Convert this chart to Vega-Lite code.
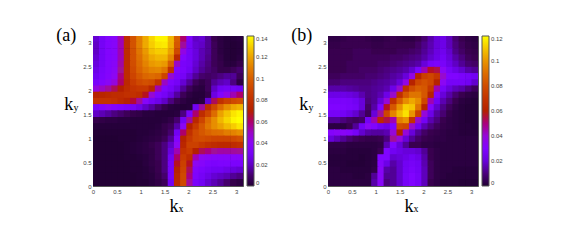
{"$schema":"https://vega.github.io/schema/vega-lite/v6.json","background":"white","padding":{"left":55,"top":26,"right":0,"bottom":0},"bounds":"flush","spacing":85,
"config":{"view":{"stroke":"#555","strokeWidth":1,"fill":"#000000"},"axis":{"grid":false,"domain":false,"tickSize":-2,"tickColor":"#555","labelFontSize":6,"labelColor":"#444","labelFont":"Liberation Sans","labelPadding":4,"title":null,"labelFlush":false,"labelOverlap":false},"legend":{"gradientLength":150,"gradientThickness":7,"offset":4,"labelFontSize":6,"labelColor":"#444","labelFont":"Liberation Sans","title":null,"gradientStrokeColor":"#555","gradientStrokeWidth":1,"labelOffset":6,"labelOverlap":false}},
"datasets":{
"a":[
{"x":0.07,"y":3.08,"v":0.022},{"x":0.2,"y":3.08,"v":0.03},{"x":0.33,"y":3.08,"v":0.036},{"x":0.46,"y":3.08,"v":0.038},{"x":0.59,"y":3.08,"v":0.052},{"x":0.72,"y":3.08,"v":0.078},{"x":0.85,"y":3.08,"v":0.096},{"x":0.98,"y":3.08,"v":0.11},{"x":1.11,"y":3.08,"v":0.122},{"x":1.24,"y":3.08,"v":0.132},{"x":1.37,"y":3.08,"v":0.138},{"x":1.51,"y":3.08,"v":0.138},{"x":1.64,"y":3.08,"v":0.125},{"x":1.77,"y":3.08,"v":0.1},{"x":1.9,"y":3.08,"v":0.06},{"x":2.03,"y":3.08,"v":0.032},{"x":2.16,"y":3.08,"v":0.02},{"x":2.29,"y":3.08,"v":0.022},{"x":2.42,"y":3.08,"v":0.014},{"x":2.55,"y":3.08,"v":0.007},{"x":2.68,"y":3.08,"v":0.004},{"x":2.81,"y":3.08,"v":0.002},{"x":2.95,"y":3.08,"v":0.002},{"x":3.08,"y":3.08,"v":0.003},
{"x":0.07,"y":2.95,"v":0.02},{"x":0.2,"y":2.95,"v":0.03},{"x":0.33,"y":2.95,"v":0.036},{"x":0.46,"y":2.95,"v":0.038},{"x":0.59,"y":2.95,"v":0.052},{"x":0.72,"y":2.95,"v":0.078},{"x":0.85,"y":2.95,"v":0.096},{"x":0.98,"y":2.95,"v":0.11},{"x":1.11,"y":2.95,"v":0.122},{"x":1.24,"y":2.95,"v":0.13},{"x":1.37,"y":2.95,"v":0.135},{"x":1.51,"y":2.95,"v":0.136},{"x":1.64,"y":2.95,"v":0.124},{"x":1.77,"y":2.95,"v":0.098},{"x":1.9,"y":2.95,"v":0.055},{"x":2.03,"y":2.95,"v":0.03},{"x":2.16,"y":2.95,"v":0.022},{"x":2.29,"y":2.95,"v":0.02},{"x":2.42,"y":2.95,"v":0.014},{"x":2.55,"y":2.95,"v":0.008},{"x":2.68,"y":2.95,"v":0.004},{"x":2.81,"y":2.95,"v":0.002},{"x":2.95,"y":2.95,"v":0.001},{"x":3.08,"y":2.95,"v":0.002},
{"x":0.07,"y":2.81,"v":0.02},{"x":0.2,"y":2.81,"v":0.03},{"x":0.33,"y":2.81,"v":0.036},{"x":0.46,"y":2.81,"v":0.038},{"x":0.59,"y":2.81,"v":0.052},{"x":0.72,"y":2.81,"v":0.078},{"x":0.85,"y":2.81,"v":0.095},{"x":0.98,"y":2.81,"v":0.108},{"x":1.11,"y":2.81,"v":0.118},{"x":1.24,"y":2.81,"v":0.127},{"x":1.37,"y":2.81,"v":0.13},{"x":1.51,"y":2.81,"v":0.13},{"x":1.64,"y":2.81,"v":0.12},{"x":1.77,"y":2.81,"v":0.092},{"x":1.9,"y":2.81,"v":0.045},{"x":2.03,"y":2.81,"v":0.03},{"x":2.16,"y":2.81,"v":0.024},{"x":2.29,"y":2.81,"v":0.018},{"x":2.42,"y":2.81,"v":0.014},{"x":2.55,"y":2.81,"v":0.008},{"x":2.68,"y":2.81,"v":0.004},{"x":2.81,"y":2.81,"v":0.002},{"x":2.95,"y":2.81,"v":0.001},{"x":3.08,"y":2.81,"v":0.002},
{"x":0.07,"y":2.68,"v":0.022},{"x":0.2,"y":2.68,"v":0.03},{"x":0.33,"y":2.68,"v":0.036},{"x":0.46,"y":2.68,"v":0.038},{"x":0.59,"y":2.68,"v":0.052},{"x":0.72,"y":2.68,"v":0.078},{"x":0.85,"y":2.68,"v":0.095},{"x":0.98,"y":2.68,"v":0.106},{"x":1.11,"y":2.68,"v":0.115},{"x":1.24,"y":2.68,"v":0.122},{"x":1.37,"y":2.68,"v":0.125},{"x":1.51,"y":2.68,"v":0.125},{"x":1.64,"y":2.68,"v":0.113},{"x":1.77,"y":2.68,"v":0.075},{"x":1.9,"y":2.68,"v":0.036},{"x":2.03,"y":2.68,"v":0.03},{"x":2.16,"y":2.68,"v":0.024},{"x":2.29,"y":2.68,"v":0.018},{"x":2.42,"y":2.68,"v":0.013},{"x":2.55,"y":2.68,"v":0.008},{"x":2.68,"y":2.68,"v":0.005},{"x":2.81,"y":2.68,"v":0.002},{"x":2.95,"y":2.68,"v":0.001},{"x":3.08,"y":2.68,"v":0.003},
{"x":0.07,"y":2.55,"v":0.024},{"x":0.2,"y":2.55,"v":0.03},{"x":0.33,"y":2.55,"v":0.036},{"x":0.46,"y":2.55,"v":0.039},{"x":0.59,"y":2.55,"v":0.054},{"x":0.72,"y":2.55,"v":0.078},{"x":0.85,"y":2.55,"v":0.094},{"x":0.98,"y":2.55,"v":0.104},{"x":1.11,"y":2.55,"v":0.112},{"x":1.24,"y":2.55,"v":0.118},{"x":1.37,"y":2.55,"v":0.12},{"x":1.51,"y":2.55,"v":0.118},{"x":1.64,"y":2.55,"v":0.1},{"x":1.77,"y":2.55,"v":0.05},{"x":1.9,"y":2.55,"v":0.032},{"x":2.03,"y":2.55,"v":0.03},{"x":2.16,"y":2.55,"v":0.022},{"x":2.29,"y":2.55,"v":0.016},{"x":2.42,"y":2.55,"v":0.012},{"x":2.55,"y":2.55,"v":0.008},{"x":2.68,"y":2.55,"v":0.006},{"x":2.81,"y":2.55,"v":0.003},{"x":2.95,"y":2.55,"v":0.003},{"x":3.08,"y":2.55,"v":0.006},
{"x":0.07,"y":2.42,"v":0.026},{"x":0.2,"y":2.42,"v":0.032},{"x":0.33,"y":2.42,"v":0.036},{"x":0.46,"y":2.42,"v":0.04},{"x":0.59,"y":2.42,"v":0.056},{"x":0.72,"y":2.42,"v":0.078},{"x":0.85,"y":2.42,"v":0.092},{"x":0.98,"y":2.42,"v":0.102},{"x":1.11,"y":2.42,"v":0.108},{"x":1.24,"y":2.42,"v":0.112},{"x":1.37,"y":2.42,"v":0.113},{"x":1.51,"y":2.42,"v":0.108},{"x":1.64,"y":2.42,"v":0.08},{"x":1.77,"y":2.42,"v":0.036},{"x":1.9,"y":2.42,"v":0.033},{"x":2.03,"y":2.42,"v":0.028},{"x":2.16,"y":2.42,"v":0.02},{"x":2.29,"y":2.42,"v":0.014},{"x":2.42,"y":2.42,"v":0.011},{"x":2.55,"y":2.42,"v":0.009},{"x":2.68,"y":2.42,"v":0.006},{"x":2.81,"y":2.42,"v":0.006},{"x":2.95,"y":2.42,"v":0.008},{"x":3.08,"y":2.42,"v":0.01},
{"x":0.07,"y":2.29,"v":0.028},{"x":0.2,"y":2.29,"v":0.033},{"x":0.33,"y":2.29,"v":0.037},{"x":0.46,"y":2.29,"v":0.042},{"x":0.59,"y":2.29,"v":0.058},{"x":0.72,"y":2.29,"v":0.078},{"x":0.85,"y":2.29,"v":0.09},{"x":0.98,"y":2.29,"v":0.098},{"x":1.11,"y":2.29,"v":0.103},{"x":1.24,"y":2.29,"v":0.105},{"x":1.37,"y":2.29,"v":0.103},{"x":1.51,"y":2.29,"v":0.09},{"x":1.64,"y":2.29,"v":0.048},{"x":1.77,"y":2.29,"v":0.033},{"x":1.9,"y":2.29,"v":0.03},{"x":2.03,"y":2.29,"v":0.022},{"x":2.16,"y":2.29,"v":0.014},{"x":2.29,"y":2.29,"v":0.01},{"x":2.42,"y":2.29,"v":0.009},{"x":2.55,"y":2.29,"v":0.01},{"x":2.68,"y":2.29,"v":0.012},{"x":2.81,"y":2.29,"v":0.014},{"x":2.95,"y":2.29,"v":0.014},{"x":3.08,"y":2.29,"v":0.008},
{"x":0.07,"y":2.16,"v":0.032},{"x":0.2,"y":2.16,"v":0.036},{"x":0.33,"y":2.16,"v":0.04},{"x":0.46,"y":2.16,"v":0.046},{"x":0.59,"y":2.16,"v":0.06},{"x":0.72,"y":2.16,"v":0.076},{"x":0.85,"y":2.16,"v":0.086},{"x":0.98,"y":2.16,"v":0.092},{"x":1.11,"y":2.16,"v":0.095},{"x":1.24,"y":2.16,"v":0.093},{"x":1.37,"y":2.16,"v":0.082},{"x":1.51,"y":2.16,"v":0.05},{"x":1.64,"y":2.16,"v":0.034},{"x":1.77,"y":2.16,"v":0.03},{"x":1.9,"y":2.16,"v":0.022},{"x":2.03,"y":2.16,"v":0.014},{"x":2.16,"y":2.16,"v":0.008},{"x":2.29,"y":2.16,"v":0.005},{"x":2.42,"y":2.16,"v":0.008},{"x":2.55,"y":2.16,"v":0.014},{"x":2.68,"y":2.16,"v":0.018},{"x":2.81,"y":2.16,"v":0.02},{"x":2.95,"y":2.16,"v":0.012},{"x":3.08,"y":2.16,"v":0.004},
{"x":0.07,"y":2.03,"v":0.046},{"x":0.2,"y":2.03,"v":0.05},{"x":0.33,"y":2.03,"v":0.055},{"x":0.46,"y":2.03,"v":0.062},{"x":0.59,"y":2.03,"v":0.07},{"x":0.72,"y":2.03,"v":0.078},{"x":0.85,"y":2.03,"v":0.082},{"x":0.98,"y":2.03,"v":0.084},{"x":1.11,"y":2.03,"v":0.084},{"x":1.24,"y":2.03,"v":0.075},{"x":1.37,"y":2.03,"v":0.052},{"x":1.51,"y":2.03,"v":0.034},{"x":1.64,"y":2.03,"v":0.03},{"x":1.77,"y":2.03,"v":0.024},{"x":1.9,"y":2.03,"v":0.014},{"x":2.03,"y":2.03,"v":0.008},{"x":2.16,"y":2.03,"v":0.004},{"x":2.29,"y":2.03,"v":0.003},{"x":2.42,"y":2.03,"v":0.008},{"x":2.55,"y":2.03,"v":0.02},{"x":2.68,"y":2.03,"v":0.028},{"x":2.81,"y":2.03,"v":0.03},{"x":2.95,"y":2.03,"v":0.03},{"x":3.08,"y":2.03,"v":0.028},
{"x":0.07,"y":1.9,"v":0.072},{"x":0.2,"y":1.9,"v":0.074},{"x":0.33,"y":1.9,"v":0.076},{"x":0.46,"y":1.9,"v":0.078},{"x":0.59,"y":1.9,"v":0.078},{"x":0.72,"y":1.9,"v":0.08},{"x":0.85,"y":1.9,"v":0.08},{"x":0.98,"y":1.9,"v":0.078},{"x":1.11,"y":1.9,"v":0.068},{"x":1.24,"y":1.9,"v":0.048},{"x":1.37,"y":1.9,"v":0.034},{"x":1.51,"y":1.9,"v":0.03},{"x":1.64,"y":1.9,"v":0.024},{"x":1.77,"y":1.9,"v":0.015},{"x":1.9,"y":1.9,"v":0.008},{"x":2.03,"y":1.9,"v":0.004},{"x":2.16,"y":1.9,"v":0.002},{"x":2.29,"y":1.9,"v":0.002},{"x":2.42,"y":1.9,"v":0.006},{"x":2.55,"y":1.9,"v":0.025},{"x":2.68,"y":1.9,"v":0.036},{"x":2.81,"y":1.9,"v":0.044},{"x":2.95,"y":1.9,"v":0.052},{"x":3.08,"y":1.9,"v":0.06},
{"x":0.07,"y":1.77,"v":0.082},{"x":0.2,"y":1.77,"v":0.082},{"x":0.33,"y":1.77,"v":0.082},{"x":0.46,"y":1.77,"v":0.08},{"x":0.59,"y":1.77,"v":0.076},{"x":0.72,"y":1.77,"v":0.072},{"x":0.85,"y":1.77,"v":0.066},{"x":0.98,"y":1.77,"v":0.055},{"x":1.11,"y":1.77,"v":0.038},{"x":1.24,"y":1.77,"v":0.03},{"x":1.37,"y":1.77,"v":0.026},{"x":1.51,"y":1.77,"v":0.02},{"x":1.64,"y":1.77,"v":0.012},{"x":1.77,"y":1.77,"v":0.007},{"x":1.9,"y":1.77,"v":0.004},{"x":2.03,"y":1.77,"v":0.002},{"x":2.16,"y":1.77,"v":0.001},{"x":2.29,"y":1.77,"v":0.003},{"x":2.42,"y":1.77,"v":0.022},{"x":2.55,"y":1.77,"v":0.062},{"x":2.68,"y":1.77,"v":0.08},{"x":2.81,"y":1.77,"v":0.088},{"x":2.95,"y":1.77,"v":0.092},{"x":3.08,"y":1.77,"v":0.095},
{"x":0.07,"y":1.64,"v":0.032},{"x":0.2,"y":1.64,"v":0.036},{"x":0.33,"y":1.64,"v":0.04},{"x":0.46,"y":1.64,"v":0.036},{"x":0.59,"y":1.64,"v":0.034},{"x":0.72,"y":1.64,"v":0.032},{"x":0.85,"y":1.64,"v":0.03},{"x":0.98,"y":1.64,"v":0.026},{"x":1.11,"y":1.64,"v":0.02},{"x":1.24,"y":1.64,"v":0.015},{"x":1.37,"y":1.64,"v":0.01},{"x":1.51,"y":1.64,"v":0.006},{"x":1.64,"y":1.64,"v":0.003},{"x":1.77,"y":1.64,"v":0.002},{"x":1.9,"y":1.64,"v":0.001},{"x":2.03,"y":1.64,"v":0.002},{"x":2.16,"y":1.64,"v":0.028},{"x":2.29,"y":1.64,"v":0.055},{"x":2.42,"y":1.64,"v":0.078},{"x":2.55,"y":1.64,"v":0.092},{"x":2.68,"y":1.64,"v":0.105},{"x":2.81,"y":1.64,"v":0.115},{"x":2.95,"y":1.64,"v":0.122},{"x":3.08,"y":1.64,"v":0.125},
{"x":0.07,"y":1.51,"v":0.02},{"x":0.2,"y":1.51,"v":0.018},{"x":0.33,"y":1.51,"v":0.015},{"x":0.46,"y":1.51,"v":0.012},{"x":0.59,"y":1.51,"v":0.01},{"x":0.72,"y":1.51,"v":0.008},{"x":0.85,"y":1.51,"v":0.006},{"x":0.98,"y":1.51,"v":0.005},{"x":1.11,"y":1.51,"v":0.003},{"x":1.24,"y":1.51,"v":0.003},{"x":1.37,"y":1.51,"v":0.002},{"x":1.51,"y":1.51,"v":0.002},{"x":1.64,"y":1.51,"v":0.002},{"x":1.77,"y":1.51,"v":0.003},{"x":1.9,"y":1.51,"v":0.012},{"x":2.03,"y":1.51,"v":0.032},{"x":2.16,"y":1.51,"v":0.06},{"x":2.29,"y":1.51,"v":0.078},{"x":2.42,"y":1.51,"v":0.09},{"x":2.55,"y":1.51,"v":0.105},{"x":2.68,"y":1.51,"v":0.12},{"x":2.81,"y":1.51,"v":0.128},{"x":2.95,"y":1.51,"v":0.135},{"x":3.08,"y":1.51,"v":0.138},
{"x":0.07,"y":1.37,"v":0.006},{"x":0.2,"y":1.37,"v":0.005},{"x":0.33,"y":1.37,"v":0.004},{"x":0.46,"y":1.37,"v":0.004},{"x":0.59,"y":1.37,"v":0.003},{"x":0.72,"y":1.37,"v":0.003},{"x":0.85,"y":1.37,"v":0.002},{"x":0.98,"y":1.37,"v":0.002},{"x":1.11,"y":1.37,"v":0.002},{"x":1.24,"y":1.37,"v":0.002},{"x":1.37,"y":1.37,"v":0.002},{"x":1.51,"y":1.37,"v":0.003},{"x":1.64,"y":1.37,"v":0.005},{"x":1.77,"y":1.37,"v":0.01},{"x":1.9,"y":1.37,"v":0.028},{"x":2.03,"y":1.37,"v":0.055},{"x":2.16,"y":1.37,"v":0.075},{"x":2.29,"y":1.37,"v":0.09},{"x":2.42,"y":1.37,"v":0.105},{"x":2.55,"y":1.37,"v":0.115},{"x":2.68,"y":1.37,"v":0.125},{"x":2.81,"y":1.37,"v":0.132},{"x":2.95,"y":1.37,"v":0.138},{"x":3.08,"y":1.37,"v":0.14},
{"x":0.07,"y":1.24,"v":0.002},{"x":0.2,"y":1.24,"v":0.002},{"x":0.33,"y":1.24,"v":0.002},{"x":0.46,"y":1.24,"v":0.002},{"x":0.59,"y":1.24,"v":0.002},{"x":0.72,"y":1.24,"v":0.002},{"x":0.85,"y":1.24,"v":0.002},{"x":0.98,"y":1.24,"v":0.002},{"x":1.11,"y":1.24,"v":0.002},{"x":1.24,"y":1.24,"v":0.002},{"x":1.37,"y":1.24,"v":0.003},{"x":1.51,"y":1.24,"v":0.006},{"x":1.64,"y":1.24,"v":0.008},{"x":1.77,"y":1.24,"v":0.016},{"x":1.9,"y":1.24,"v":0.04},{"x":2.03,"y":1.24,"v":0.07},{"x":2.16,"y":1.24,"v":0.085},{"x":2.29,"y":1.24,"v":0.098},{"x":2.42,"y":1.24,"v":0.108},{"x":2.55,"y":1.24,"v":0.115},{"x":2.68,"y":1.24,"v":0.12},{"x":2.81,"y":1.24,"v":0.126},{"x":2.95,"y":1.24,"v":0.13},{"x":3.08,"y":1.24,"v":0.135},
{"x":0.07,"y":1.11,"v":0.001},{"x":0.2,"y":1.11,"v":0.001},{"x":0.33,"y":1.11,"v":0.001},{"x":0.46,"y":1.11,"v":0.001},{"x":0.59,"y":1.11,"v":0.001},{"x":0.72,"y":1.11,"v":0.001},{"x":0.85,"y":1.11,"v":0.001},{"x":0.98,"y":1.11,"v":0.002},{"x":1.11,"y":1.11,"v":0.002},{"x":1.24,"y":1.11,"v":0.003},{"x":1.37,"y":1.11,"v":0.004},{"x":1.51,"y":1.11,"v":0.006},{"x":1.64,"y":1.11,"v":0.01},{"x":1.77,"y":1.11,"v":0.028},{"x":1.9,"y":1.11,"v":0.06},{"x":2.03,"y":1.11,"v":0.08},{"x":2.16,"y":1.11,"v":0.092},{"x":2.29,"y":1.11,"v":0.098},{"x":2.42,"y":1.11,"v":0.102},{"x":2.55,"y":1.11,"v":0.105},{"x":2.68,"y":1.11,"v":0.106},{"x":2.81,"y":1.11,"v":0.11},{"x":2.95,"y":1.11,"v":0.112},{"x":3.08,"y":1.11,"v":0.115},
{"x":0.07,"y":0.98,"v":0},{"x":0.2,"y":0.98,"v":0},{"x":0.33,"y":0.98,"v":0},{"x":0.46,"y":0.98,"v":0},{"x":0.59,"y":0.98,"v":0.001},{"x":0.72,"y":0.98,"v":0.001},{"x":0.85,"y":0.98,"v":0.001},{"x":0.98,"y":0.98,"v":0.002},{"x":1.11,"y":0.98,"v":0.003},{"x":1.24,"y":0.98,"v":0.004},{"x":1.37,"y":0.98,"v":0.005},{"x":1.51,"y":0.98,"v":0.008},{"x":1.64,"y":0.98,"v":0.014},{"x":1.77,"y":0.98,"v":0.036},{"x":1.9,"y":0.98,"v":0.072},{"x":2.03,"y":0.98,"v":0.085},{"x":2.16,"y":0.98,"v":0.092},{"x":2.29,"y":0.98,"v":0.094},{"x":2.42,"y":0.98,"v":0.092},{"x":2.55,"y":0.98,"v":0.09},{"x":2.68,"y":0.98,"v":0.09},{"x":2.81,"y":0.98,"v":0.09},{"x":2.95,"y":0.98,"v":0.092},{"x":3.08,"y":0.98,"v":0.095},
{"x":0.07,"y":0.85,"v":0},{"x":0.2,"y":0.85,"v":0},{"x":0.33,"y":0.85,"v":0},{"x":0.46,"y":0.85,"v":0},{"x":0.59,"y":0.85,"v":0},{"x":0.72,"y":0.85,"v":0.001},{"x":0.85,"y":0.85,"v":0.002},{"x":0.98,"y":0.85,"v":0.003},{"x":1.11,"y":0.85,"v":0.004},{"x":1.24,"y":0.85,"v":0.006},{"x":1.37,"y":0.85,"v":0.008},{"x":1.51,"y":0.85,"v":0.012},{"x":1.64,"y":0.85,"v":0.02},{"x":1.77,"y":0.85,"v":0.042},{"x":1.9,"y":0.85,"v":0.075},{"x":2.03,"y":0.85,"v":0.088},{"x":2.16,"y":0.85,"v":0.088},{"x":2.29,"y":0.85,"v":0.084},{"x":2.42,"y":0.85,"v":0.08},{"x":2.55,"y":0.85,"v":0.078},{"x":2.68,"y":0.85,"v":0.076},{"x":2.81,"y":0.85,"v":0.076},{"x":2.95,"y":0.85,"v":0.078},{"x":3.08,"y":0.85,"v":0.08},
{"x":0.07,"y":0.72,"v":0},{"x":0.2,"y":0.72,"v":0},{"x":0.33,"y":0.72,"v":0},{"x":0.46,"y":0.72,"v":0},{"x":0.59,"y":0.72,"v":0},{"x":0.72,"y":0.72,"v":0.001},{"x":0.85,"y":0.72,"v":0.002},{"x":0.98,"y":0.72,"v":0.003},{"x":1.11,"y":0.72,"v":0.004},{"x":1.24,"y":0.72,"v":0.005},{"x":1.37,"y":0.72,"v":0.008},{"x":1.51,"y":0.72,"v":0.012},{"x":1.64,"y":0.72,"v":0.024},{"x":1.77,"y":0.72,"v":0.052},{"x":1.9,"y":0.72,"v":0.08},{"x":2.03,"y":0.72,"v":0.085},{"x":2.16,"y":0.72,"v":0.07},{"x":2.29,"y":0.72,"v":0.062},{"x":2.42,"y":0.72,"v":0.058},{"x":2.55,"y":0.72,"v":0.056},{"x":2.68,"y":0.72,"v":0.054},{"x":2.81,"y":0.72,"v":0.054},{"x":2.95,"y":0.72,"v":0.055},{"x":3.08,"y":0.72,"v":0.056},
{"x":0.07,"y":0.59,"v":0},{"x":0.2,"y":0.59,"v":0},{"x":0.33,"y":0.59,"v":0},{"x":0.46,"y":0.59,"v":0},{"x":0.59,"y":0.59,"v":0},{"x":0.72,"y":0.59,"v":0.001},{"x":0.85,"y":0.59,"v":0.001},{"x":0.98,"y":0.59,"v":0.002},{"x":1.11,"y":0.59,"v":0.003},{"x":1.24,"y":0.59,"v":0.005},{"x":1.37,"y":0.59,"v":0.008},{"x":1.51,"y":0.59,"v":0.012},{"x":1.64,"y":0.59,"v":0.028},{"x":1.77,"y":0.59,"v":0.06},{"x":1.9,"y":0.59,"v":0.085},{"x":2.03,"y":0.59,"v":0.078},{"x":2.16,"y":0.59,"v":0.052},{"x":2.29,"y":0.59,"v":0.042},{"x":2.42,"y":0.59,"v":0.04},{"x":2.55,"y":0.59,"v":0.038},{"x":2.68,"y":0.59,"v":0.038},{"x":2.81,"y":0.59,"v":0.038},{"x":2.95,"y":0.59,"v":0.038},{"x":3.08,"y":0.59,"v":0.038},
{"x":0.07,"y":0.46,"v":0},{"x":0.2,"y":0.46,"v":0},{"x":0.33,"y":0.46,"v":0},{"x":0.46,"y":0.46,"v":0},{"x":0.59,"y":0.46,"v":0},{"x":0.72,"y":0.46,"v":0},{"x":0.85,"y":0.46,"v":0.001},{"x":0.98,"y":0.46,"v":0.001},{"x":1.11,"y":0.46,"v":0.003},{"x":1.24,"y":0.46,"v":0.005},{"x":1.37,"y":0.46,"v":0.007},{"x":1.51,"y":0.46,"v":0.012},{"x":1.64,"y":0.46,"v":0.03},{"x":1.77,"y":0.46,"v":0.068},{"x":1.9,"y":0.46,"v":0.088},{"x":2.03,"y":0.46,"v":0.068},{"x":2.16,"y":0.46,"v":0.042},{"x":2.29,"y":0.46,"v":0.038},{"x":2.42,"y":0.46,"v":0.034},{"x":2.55,"y":0.46,"v":0.033},{"x":2.68,"y":0.46,"v":0.034},{"x":2.81,"y":0.46,"v":0.034},{"x":2.95,"y":0.46,"v":0.033},{"x":3.08,"y":0.46,"v":0.033},
{"x":0.07,"y":0.33,"v":0},{"x":0.2,"y":0.33,"v":0},{"x":0.33,"y":0.33,"v":0},{"x":0.46,"y":0.33,"v":0},{"x":0.59,"y":0.33,"v":0},{"x":0.72,"y":0.33,"v":0},{"x":0.85,"y":0.33,"v":0.001},{"x":0.98,"y":0.33,"v":0.001},{"x":1.11,"y":0.33,"v":0.002},{"x":1.24,"y":0.33,"v":0.004},{"x":1.37,"y":0.33,"v":0.007},{"x":1.51,"y":0.33,"v":0.012},{"x":1.64,"y":0.33,"v":0.03},{"x":1.77,"y":0.33,"v":0.072},{"x":1.9,"y":0.33,"v":0.09},{"x":2.03,"y":0.33,"v":0.062},{"x":2.16,"y":0.33,"v":0.036},{"x":2.29,"y":0.33,"v":0.033},{"x":2.42,"y":0.33,"v":0.03},{"x":2.55,"y":0.33,"v":0.028},{"x":2.68,"y":0.33,"v":0.028},{"x":2.81,"y":0.33,"v":0.026},{"x":2.95,"y":0.33,"v":0.024},{"x":3.08,"y":0.33,"v":0.022},
{"x":0.07,"y":0.2,"v":0},{"x":0.2,"y":0.2,"v":0},{"x":0.33,"y":0.2,"v":0},{"x":0.46,"y":0.2,"v":0},{"x":0.59,"y":0.2,"v":0},{"x":0.72,"y":0.2,"v":0},{"x":0.85,"y":0.2,"v":0},{"x":0.98,"y":0.2,"v":0.001},{"x":1.11,"y":0.2,"v":0.002},{"x":1.24,"y":0.2,"v":0.003},{"x":1.37,"y":0.2,"v":0.006},{"x":1.51,"y":0.2,"v":0.01},{"x":1.64,"y":0.2,"v":0.03},{"x":1.77,"y":0.2,"v":0.075},{"x":1.9,"y":0.2,"v":0.092},{"x":2.03,"y":0.2,"v":0.058},{"x":2.16,"y":0.2,"v":0.034},{"x":2.29,"y":0.2,"v":0.03},{"x":2.42,"y":0.2,"v":0.026},{"x":2.55,"y":0.2,"v":0.022},{"x":2.68,"y":0.2,"v":0.02},{"x":2.81,"y":0.2,"v":0.018},{"x":2.95,"y":0.2,"v":0.014},{"x":3.08,"y":0.2,"v":0.012},
{"x":0.07,"y":0.07,"v":0},{"x":0.2,"y":0.07,"v":0},{"x":0.33,"y":0.07,"v":0},{"x":0.46,"y":0.07,"v":0},{"x":0.59,"y":0.07,"v":0},{"x":0.72,"y":0.07,"v":0},{"x":0.85,"y":0.07,"v":0},{"x":0.98,"y":0.07,"v":0.001},{"x":1.11,"y":0.07,"v":0.001},{"x":1.24,"y":0.07,"v":0.003},{"x":1.37,"y":0.07,"v":0.005},{"x":1.51,"y":0.07,"v":0.008},{"x":1.64,"y":0.07,"v":0.028},{"x":1.77,"y":0.07,"v":0.076},{"x":1.9,"y":0.07,"v":0.092},{"x":2.03,"y":0.07,"v":0.055},{"x":2.16,"y":0.07,"v":0.032},{"x":2.29,"y":0.07,"v":0.028},{"x":2.42,"y":0.07,"v":0.022},{"x":2.55,"y":0.07,"v":0.018},{"x":2.68,"y":0.07,"v":0.014},{"x":2.81,"y":0.07,"v":0.01},{"x":2.95,"y":0.07,"v":0.006},{"x":3.08,"y":0.07,"v":0.004}
],
"b":[
{"x":0.07,"y":3.08,"v":0.004},{"x":0.2,"y":3.08,"v":0.004},{"x":0.33,"y":3.08,"v":0.005},{"x":0.46,"y":3.08,"v":0.006},{"x":0.59,"y":3.08,"v":0.006},{"x":0.72,"y":3.08,"v":0.006},{"x":0.85,"y":3.08,"v":0.005},{"x":0.98,"y":3.08,"v":0.004},{"x":1.11,"y":3.08,"v":0.004},{"x":1.24,"y":3.08,"v":0.005},{"x":1.37,"y":3.08,"v":0.006},{"x":1.51,"y":3.08,"v":0.005},{"x":1.64,"y":3.08,"v":0.004},{"x":1.77,"y":3.08,"v":0.004},{"x":1.9,"y":3.08,"v":0.006},{"x":2.03,"y":3.08,"v":0.009},{"x":2.16,"y":3.08,"v":0.014},{"x":2.29,"y":3.08,"v":0.02},{"x":2.42,"y":3.08,"v":0.022},{"x":2.55,"y":3.08,"v":0.016},{"x":2.68,"y":3.08,"v":0.009},{"x":2.81,"y":3.08,"v":0.006},{"x":2.95,"y":3.08,"v":0.004},{"x":3.08,"y":3.08,"v":0.003},
{"x":0.07,"y":2.95,"v":0.005},{"x":0.2,"y":2.95,"v":0.005},{"x":0.33,"y":2.95,"v":0.006},{"x":0.46,"y":2.95,"v":0.006},{"x":0.59,"y":2.95,"v":0.006},{"x":0.72,"y":2.95,"v":0.006},{"x":0.85,"y":2.95,"v":0.006},{"x":0.98,"y":2.95,"v":0.005},{"x":1.11,"y":2.95,"v":0.005},{"x":1.24,"y":2.95,"v":0.006},{"x":1.37,"y":2.95,"v":0.006},{"x":1.51,"y":2.95,"v":0.006},{"x":1.64,"y":2.95,"v":0.006},{"x":1.77,"y":2.95,"v":0.006},{"x":1.9,"y":2.95,"v":0.008},{"x":2.03,"y":2.95,"v":0.011},{"x":2.16,"y":2.95,"v":0.015},{"x":2.29,"y":2.95,"v":0.02},{"x":2.42,"y":2.95,"v":0.022},{"x":2.55,"y":2.95,"v":0.016},{"x":2.68,"y":2.95,"v":0.01},{"x":2.81,"y":2.95,"v":0.007},{"x":2.95,"y":2.95,"v":0.005},{"x":3.08,"y":2.95,"v":0.004},
{"x":0.07,"y":2.81,"v":0.006},{"x":0.2,"y":2.81,"v":0.006},{"x":0.33,"y":2.81,"v":0.006},{"x":0.46,"y":2.81,"v":0.006},{"x":0.59,"y":2.81,"v":0.007},{"x":0.72,"y":2.81,"v":0.007},{"x":0.85,"y":2.81,"v":0.007},{"x":0.98,"y":2.81,"v":0.006},{"x":1.11,"y":2.81,"v":0.006},{"x":1.24,"y":2.81,"v":0.006},{"x":1.37,"y":2.81,"v":0.006},{"x":1.51,"y":2.81,"v":0.007},{"x":1.64,"y":2.81,"v":0.007},{"x":1.77,"y":2.81,"v":0.008},{"x":1.9,"y":2.81,"v":0.009},{"x":2.03,"y":2.81,"v":0.012},{"x":2.16,"y":2.81,"v":0.016},{"x":2.29,"y":2.81,"v":0.021},{"x":2.42,"y":2.81,"v":0.023},{"x":2.55,"y":2.81,"v":0.018},{"x":2.68,"y":2.81,"v":0.011},{"x":2.81,"y":2.81,"v":0.008},{"x":2.95,"y":2.81,"v":0.006},{"x":3.08,"y":2.81,"v":0.005},
{"x":0.07,"y":2.68,"v":0.006},{"x":0.2,"y":2.68,"v":0.006},{"x":0.33,"y":2.68,"v":0.006},{"x":0.46,"y":2.68,"v":0.006},{"x":0.59,"y":2.68,"v":0.007},{"x":0.72,"y":2.68,"v":0.007},{"x":0.85,"y":2.68,"v":0.007},{"x":0.98,"y":2.68,"v":0.007},{"x":1.11,"y":2.68,"v":0.007},{"x":1.24,"y":2.68,"v":0.007},{"x":1.37,"y":2.68,"v":0.008},{"x":1.51,"y":2.68,"v":0.008},{"x":1.64,"y":2.68,"v":0.009},{"x":1.77,"y":2.68,"v":0.01},{"x":1.9,"y":2.68,"v":0.011},{"x":2.03,"y":2.68,"v":0.014},{"x":2.16,"y":2.68,"v":0.018},{"x":2.29,"y":2.68,"v":0.022},{"x":2.42,"y":2.68,"v":0.025},{"x":2.55,"y":2.68,"v":0.02},{"x":2.68,"y":2.68,"v":0.014},{"x":2.81,"y":2.68,"v":0.01},{"x":2.95,"y":2.68,"v":0.007},{"x":3.08,"y":2.68,"v":0.006},
{"x":0.07,"y":2.55,"v":0.006},{"x":0.2,"y":2.55,"v":0.006},{"x":0.33,"y":2.55,"v":0.006},{"x":0.46,"y":2.55,"v":0.007},{"x":0.59,"y":2.55,"v":0.007},{"x":0.72,"y":2.55,"v":0.007},{"x":0.85,"y":2.55,"v":0.007},{"x":0.98,"y":2.55,"v":0.007},{"x":1.11,"y":2.55,"v":0.008},{"x":1.24,"y":2.55,"v":0.008},{"x":1.37,"y":2.55,"v":0.009},{"x":1.51,"y":2.55,"v":0.01},{"x":1.64,"y":2.55,"v":0.011},{"x":1.77,"y":2.55,"v":0.012},{"x":1.9,"y":2.55,"v":0.014},{"x":2.03,"y":2.55,"v":0.02},{"x":2.16,"y":2.55,"v":0.026},{"x":2.29,"y":2.55,"v":0.028},{"x":2.42,"y":2.55,"v":0.027},{"x":2.55,"y":2.55,"v":0.022},{"x":2.68,"y":2.55,"v":0.017},{"x":2.81,"y":2.55,"v":0.012},{"x":2.95,"y":2.55,"v":0.009},{"x":3.08,"y":2.55,"v":0.008},
{"x":0.07,"y":2.42,"v":0.006},{"x":0.2,"y":2.42,"v":0.006},{"x":0.33,"y":2.42,"v":0.006},{"x":0.46,"y":2.42,"v":0.007},{"x":0.59,"y":2.42,"v":0.007},{"x":0.72,"y":2.42,"v":0.008},{"x":0.85,"y":2.42,"v":0.008},{"x":0.98,"y":2.42,"v":0.008},{"x":1.11,"y":2.42,"v":0.009},{"x":1.24,"y":2.42,"v":0.01},{"x":1.37,"y":2.42,"v":0.011},{"x":1.51,"y":2.42,"v":0.012},{"x":1.64,"y":2.42,"v":0.014},{"x":1.77,"y":2.42,"v":0.018},{"x":1.9,"y":2.42,"v":0.028},{"x":2.03,"y":2.42,"v":0.045},{"x":2.16,"y":2.42,"v":0.058},{"x":2.29,"y":2.42,"v":0.055},{"x":2.42,"y":2.42,"v":0.035},{"x":2.55,"y":2.42,"v":0.026},{"x":2.68,"y":2.42,"v":0.022},{"x":2.81,"y":2.42,"v":0.018},{"x":2.95,"y":2.42,"v":0.014},{"x":3.08,"y":2.42,"v":0.012},
{"x":0.07,"y":2.29,"v":0.007},{"x":0.2,"y":2.29,"v":0.007},{"x":0.33,"y":2.29,"v":0.008},{"x":0.46,"y":2.29,"v":0.008},{"x":0.59,"y":2.29,"v":0.008},{"x":0.72,"y":2.29,"v":0.008},{"x":0.85,"y":2.29,"v":0.009},{"x":0.98,"y":2.29,"v":0.009},{"x":1.11,"y":2.29,"v":0.01},{"x":1.24,"y":2.29,"v":0.011},{"x":1.37,"y":2.29,"v":0.013},{"x":1.51,"y":2.29,"v":0.015},{"x":1.64,"y":2.29,"v":0.02},{"x":1.77,"y":2.29,"v":0.038},{"x":1.9,"y":2.29,"v":0.062},{"x":2.03,"y":2.29,"v":0.075},{"x":2.16,"y":2.29,"v":0.078},{"x":2.29,"y":2.29,"v":0.072},{"x":2.42,"y":2.29,"v":0.042},{"x":2.55,"y":2.29,"v":0.03},{"x":2.68,"y":2.29,"v":0.03},{"x":2.81,"y":2.29,"v":0.028},{"x":2.95,"y":2.29,"v":0.026},{"x":3.08,"y":2.29,"v":0.024},
{"x":0.07,"y":2.16,"v":0.009},{"x":0.2,"y":2.16,"v":0.009},{"x":0.33,"y":2.16,"v":0.01},{"x":0.46,"y":2.16,"v":0.01},{"x":0.59,"y":2.16,"v":0.01},{"x":0.72,"y":2.16,"v":0.01},{"x":0.85,"y":2.16,"v":0.01},{"x":0.98,"y":2.16,"v":0.011},{"x":1.11,"y":2.16,"v":0.012},{"x":1.24,"y":2.16,"v":0.013},{"x":1.37,"y":2.16,"v":0.015},{"x":1.51,"y":2.16,"v":0.02},{"x":1.64,"y":2.16,"v":0.038},{"x":1.77,"y":2.16,"v":0.062},{"x":1.9,"y":2.16,"v":0.078},{"x":2.03,"y":2.16,"v":0.082},{"x":2.16,"y":2.16,"v":0.078},{"x":2.29,"y":2.16,"v":0.062},{"x":2.42,"y":2.16,"v":0.036},{"x":2.55,"y":2.16,"v":0.026},{"x":2.68,"y":2.16,"v":0.026},{"x":2.81,"y":2.16,"v":0.026},{"x":2.95,"y":2.16,"v":0.024},{"x":3.08,"y":2.16,"v":0.018},
{"x":0.07,"y":2.03,"v":0.014},{"x":0.2,"y":2.03,"v":0.014},{"x":0.33,"y":2.03,"v":0.014},{"x":0.46,"y":2.03,"v":0.013},{"x":0.59,"y":2.03,"v":0.012},{"x":0.72,"y":2.03,"v":0.011},{"x":0.85,"y":2.03,"v":0.011},{"x":0.98,"y":2.03,"v":0.012},{"x":1.11,"y":2.03,"v":0.013},{"x":1.24,"y":2.03,"v":0.015},{"x":1.37,"y":2.03,"v":0.022},{"x":1.51,"y":2.03,"v":0.042},{"x":1.64,"y":2.03,"v":0.068},{"x":1.77,"y":2.03,"v":0.08},{"x":1.9,"y":2.03,"v":0.086},{"x":2.03,"y":2.03,"v":0.084},{"x":2.16,"y":2.03,"v":0.072},{"x":2.29,"y":2.03,"v":0.045},{"x":2.42,"y":2.03,"v":0.026},{"x":2.55,"y":2.03,"v":0.02},{"x":2.68,"y":2.03,"v":0.016},{"x":2.81,"y":2.03,"v":0.014},{"x":2.95,"y":2.03,"v":0.01},{"x":3.08,"y":2.03,"v":0.007},
{"x":0.07,"y":1.9,"v":0.022},{"x":0.2,"y":1.9,"v":0.022},{"x":0.33,"y":1.9,"v":0.022},{"x":0.46,"y":1.9,"v":0.021},{"x":0.59,"y":1.9,"v":0.019},{"x":0.72,"y":1.9,"v":0.015},{"x":0.85,"y":1.9,"v":0.011},{"x":0.98,"y":1.9,"v":0.012},{"x":1.11,"y":1.9,"v":0.015},{"x":1.24,"y":1.9,"v":0.022},{"x":1.37,"y":1.9,"v":0.042},{"x":1.51,"y":1.9,"v":0.068},{"x":1.64,"y":1.9,"v":0.084},{"x":1.77,"y":1.9,"v":0.092},{"x":1.9,"y":1.9,"v":0.092},{"x":2.03,"y":1.9,"v":0.084},{"x":2.16,"y":1.9,"v":0.062},{"x":2.29,"y":1.9,"v":0.032},{"x":2.42,"y":1.9,"v":0.02},{"x":2.55,"y":1.9,"v":0.014},{"x":2.68,"y":1.9,"v":0.009},{"x":2.81,"y":1.9,"v":0.006},{"x":2.95,"y":1.9,"v":0.004},{"x":3.08,"y":1.9,"v":0.003},
{"x":0.07,"y":1.77,"v":0.028},{"x":0.2,"y":1.77,"v":0.028},{"x":0.33,"y":1.77,"v":0.028},{"x":0.46,"y":1.77,"v":0.027},{"x":0.59,"y":1.77,"v":0.024},{"x":0.72,"y":1.77,"v":0.02},{"x":0.85,"y":1.77,"v":0.01},{"x":0.98,"y":1.77,"v":0.012},{"x":1.11,"y":1.77,"v":0.02},{"x":1.24,"y":1.77,"v":0.04},{"x":1.37,"y":1.77,"v":0.068},{"x":1.51,"y":1.77,"v":0.086},{"x":1.64,"y":1.77,"v":0.098},{"x":1.77,"y":1.77,"v":0.104},{"x":1.9,"y":1.77,"v":0.098},{"x":2.03,"y":1.77,"v":0.078},{"x":2.16,"y":1.77,"v":0.045},{"x":2.29,"y":1.77,"v":0.024},{"x":2.42,"y":1.77,"v":0.015},{"x":2.55,"y":1.77,"v":0.01},{"x":2.68,"y":1.77,"v":0.006},{"x":2.81,"y":1.77,"v":0.003},{"x":2.95,"y":1.77,"v":0.002},{"x":3.08,"y":1.77,"v":0.001},
{"x":0.07,"y":1.64,"v":0.03},{"x":0.2,"y":1.64,"v":0.03},{"x":0.33,"y":1.64,"v":0.029},{"x":0.46,"y":1.64,"v":0.028},{"x":0.59,"y":1.64,"v":0.026},{"x":0.72,"y":1.64,"v":0.02},{"x":0.85,"y":1.64,"v":0.008},{"x":0.98,"y":1.64,"v":0.014},{"x":1.11,"y":1.64,"v":0.03},{"x":1.24,"y":1.64,"v":0.058},{"x":1.37,"y":1.64,"v":0.084},{"x":1.51,"y":1.64,"v":0.1},{"x":1.64,"y":1.64,"v":0.112},{"x":1.77,"y":1.64,"v":0.11},{"x":1.9,"y":1.64,"v":0.092},{"x":2.03,"y":1.64,"v":0.062},{"x":2.16,"y":1.64,"v":0.032},{"x":2.29,"y":1.64,"v":0.018},{"x":2.42,"y":1.64,"v":0.011},{"x":2.55,"y":1.64,"v":0.007},{"x":2.68,"y":1.64,"v":0.004},{"x":2.81,"y":1.64,"v":0.002},{"x":2.95,"y":1.64,"v":0.001},{"x":3.08,"y":1.64,"v":0.001},
{"x":0.07,"y":1.51,"v":0.026},{"x":0.2,"y":1.51,"v":0.026},{"x":0.33,"y":1.51,"v":0.025},{"x":0.46,"y":1.51,"v":0.022},{"x":0.59,"y":1.51,"v":0.018},{"x":0.72,"y":1.51,"v":0.012},{"x":0.85,"y":1.51,"v":0.007},{"x":0.98,"y":1.51,"v":0.02},{"x":1.11,"y":1.51,"v":0.048},{"x":1.24,"y":1.51,"v":0.078},{"x":1.37,"y":1.51,"v":0.096},{"x":1.51,"y":1.51,"v":0.108},{"x":1.64,"y":1.51,"v":0.115},{"x":1.77,"y":1.51,"v":0.1},{"x":1.9,"y":1.51,"v":0.075},{"x":2.03,"y":1.51,"v":0.04},{"x":2.16,"y":1.51,"v":0.022},{"x":2.29,"y":1.51,"v":0.013},{"x":2.42,"y":1.51,"v":0.009},{"x":2.55,"y":1.51,"v":0.005},{"x":2.68,"y":1.51,"v":0.003},{"x":2.81,"y":1.51,"v":0.002},{"x":2.95,"y":1.51,"v":0.001},{"x":3.08,"y":1.51,"v":0.001},
{"x":0.07,"y":1.37,"v":0.012},{"x":0.2,"y":1.37,"v":0.012},{"x":0.33,"y":1.37,"v":0.01},{"x":0.46,"y":1.37,"v":0.008},{"x":0.59,"y":1.37,"v":0.007},{"x":0.72,"y":1.37,"v":0.008},{"x":0.85,"y":1.37,"v":0.025},{"x":0.98,"y":1.37,"v":0.045},{"x":1.11,"y":1.37,"v":0.065},{"x":1.24,"y":1.37,"v":0.055},{"x":1.37,"y":1.37,"v":0.045},{"x":1.51,"y":1.37,"v":0.095},{"x":1.64,"y":1.37,"v":0.1},{"x":1.77,"y":1.37,"v":0.07},{"x":1.9,"y":1.37,"v":0.042},{"x":2.03,"y":1.37,"v":0.025},{"x":2.16,"y":1.37,"v":0.015},{"x":2.29,"y":1.37,"v":0.01},{"x":2.42,"y":1.37,"v":0.006},{"x":2.55,"y":1.37,"v":0.004},{"x":2.68,"y":1.37,"v":0.003},{"x":2.81,"y":1.37,"v":0.002},{"x":2.95,"y":1.37,"v":0.001},{"x":3.08,"y":1.37,"v":0.001},
{"x":0.07,"y":1.24,"v":0.003},{"x":0.2,"y":1.24,"v":0.003},{"x":0.33,"y":1.24,"v":0.003},{"x":0.46,"y":1.24,"v":0.006},{"x":0.59,"y":1.24,"v":0.012},{"x":0.72,"y":1.24,"v":0.025},{"x":0.85,"y":1.24,"v":0.035},{"x":0.98,"y":1.24,"v":0.03},{"x":1.11,"y":1.24,"v":0.024},{"x":1.24,"y":1.24,"v":0.022},{"x":1.37,"y":1.24,"v":0.03},{"x":1.51,"y":1.24,"v":0.08},{"x":1.64,"y":1.24,"v":0.078},{"x":1.77,"y":1.24,"v":0.042},{"x":1.9,"y":1.24,"v":0.024},{"x":2.03,"y":1.24,"v":0.015},{"x":2.16,"y":1.24,"v":0.01},{"x":2.29,"y":1.24,"v":0.007},{"x":2.42,"y":1.24,"v":0.005},{"x":2.55,"y":1.24,"v":0.004},{"x":2.68,"y":1.24,"v":0.003},{"x":2.81,"y":1.24,"v":0.002},{"x":2.95,"y":1.24,"v":0.002},{"x":3.08,"y":1.24,"v":0.001},
{"x":0.07,"y":1.11,"v":0.032},{"x":0.2,"y":1.11,"v":0.034},{"x":0.33,"y":1.11,"v":0.034},{"x":0.46,"y":1.11,"v":0.032},{"x":0.59,"y":1.11,"v":0.026},{"x":0.72,"y":1.11,"v":0.018},{"x":0.85,"y":1.11,"v":0.014},{"x":0.98,"y":1.11,"v":0.013},{"x":1.11,"y":1.11,"v":0.013},{"x":1.24,"y":1.11,"v":0.015},{"x":1.37,"y":1.11,"v":0.04},{"x":1.51,"y":1.11,"v":0.06},{"x":1.64,"y":1.11,"v":0.04},{"x":1.77,"y":1.11,"v":0.02},{"x":1.9,"y":1.11,"v":0.012},{"x":2.03,"y":1.11,"v":0.008},{"x":2.16,"y":1.11,"v":0.006},{"x":2.29,"y":1.11,"v":0.005},{"x":2.42,"y":1.11,"v":0.004},{"x":2.55,"y":1.11,"v":0.003},{"x":2.68,"y":1.11,"v":0.003},{"x":2.81,"y":1.11,"v":0.002},{"x":2.95,"y":1.11,"v":0.002},{"x":3.08,"y":1.11,"v":0.002},
{"x":0.07,"y":0.98,"v":0.02},{"x":0.2,"y":0.98,"v":0.016},{"x":0.33,"y":0.98,"v":0.012},{"x":0.46,"y":0.98,"v":0.009},{"x":0.59,"y":0.98,"v":0.007},{"x":0.72,"y":0.98,"v":0.006},{"x":0.85,"y":0.98,"v":0.005},{"x":0.98,"y":0.98,"v":0.005},{"x":1.11,"y":0.98,"v":0.006},{"x":1.24,"y":0.98,"v":0.01},{"x":1.37,"y":0.98,"v":0.048},{"x":1.51,"y":0.98,"v":0.04},{"x":1.64,"y":0.98,"v":0.02},{"x":1.77,"y":0.98,"v":0.012},{"x":1.9,"y":0.98,"v":0.008},{"x":2.03,"y":0.98,"v":0.006},{"x":2.16,"y":0.98,"v":0.005},{"x":2.29,"y":0.98,"v":0.004},{"x":2.42,"y":0.98,"v":0.004},{"x":2.55,"y":0.98,"v":0.003},{"x":2.68,"y":0.98,"v":0.003},{"x":2.81,"y":0.98,"v":0.003},{"x":2.95,"y":0.98,"v":0.003},{"x":3.08,"y":0.98,"v":0.003},
{"x":0.07,"y":0.85,"v":0.004},{"x":0.2,"y":0.85,"v":0.004},{"x":0.33,"y":0.85,"v":0.004},{"x":0.46,"y":0.85,"v":0.003},{"x":0.59,"y":0.85,"v":0.003},{"x":0.72,"y":0.85,"v":0.003},{"x":0.85,"y":0.85,"v":0.003},{"x":0.98,"y":0.85,"v":0.003},{"x":1.11,"y":0.85,"v":0.004},{"x":1.24,"y":0.85,"v":0.015},{"x":1.37,"y":0.85,"v":0.03},{"x":1.51,"y":0.85,"v":0.02},{"x":1.64,"y":0.85,"v":0.012},{"x":1.77,"y":0.85,"v":0.006},{"x":1.9,"y":0.85,"v":0.006},{"x":2.03,"y":0.85,"v":0.004},{"x":2.16,"y":0.85,"v":0.004},{"x":2.29,"y":0.85,"v":0.003},{"x":2.42,"y":0.85,"v":0.003},{"x":2.55,"y":0.85,"v":0.003},{"x":2.68,"y":0.85,"v":0.003},{"x":2.81,"y":0.85,"v":0.003},{"x":2.95,"y":0.85,"v":0.003},{"x":3.08,"y":0.85,"v":0.003},
{"x":0.07,"y":0.72,"v":0.003},{"x":0.2,"y":0.72,"v":0.003},{"x":0.33,"y":0.72,"v":0.003},{"x":0.46,"y":0.72,"v":0.002},{"x":0.59,"y":0.72,"v":0.002},{"x":0.72,"y":0.72,"v":0.002},{"x":0.85,"y":0.72,"v":0.002},{"x":0.98,"y":0.72,"v":0.003},{"x":1.11,"y":0.72,"v":0.006},{"x":1.24,"y":0.72,"v":0.03},{"x":1.37,"y":0.72,"v":0.024},{"x":1.51,"y":0.72,"v":0.022},{"x":1.64,"y":0.72,"v":0.02},{"x":1.77,"y":0.72,"v":0.02},{"x":1.9,"y":0.72,"v":0.018},{"x":2.03,"y":0.72,"v":0.012},{"x":2.16,"y":0.72,"v":0.006},{"x":2.29,"y":0.72,"v":0.004},{"x":2.42,"y":0.72,"v":0.003},{"x":2.55,"y":0.72,"v":0.003},{"x":2.68,"y":0.72,"v":0.003},{"x":2.81,"y":0.72,"v":0.003},{"x":2.95,"y":0.72,"v":0.003},{"x":3.08,"y":0.72,"v":0.003},
{"x":0.07,"y":0.59,"v":0.002},{"x":0.2,"y":0.59,"v":0.002},{"x":0.33,"y":0.59,"v":0.002},{"x":0.46,"y":0.59,"v":0.002},{"x":0.59,"y":0.59,"v":0.002},{"x":0.72,"y":0.59,"v":0.001},{"x":0.85,"y":0.59,"v":0.002},{"x":0.98,"y":0.59,"v":0.003},{"x":1.11,"y":0.59,"v":0.03},{"x":1.24,"y":0.59,"v":0.03},{"x":1.37,"y":0.59,"v":0.018},{"x":1.51,"y":0.59,"v":0.02},{"x":1.64,"y":0.59,"v":0.022},{"x":1.77,"y":0.59,"v":0.024},{"x":1.9,"y":0.59,"v":0.022},{"x":2.03,"y":0.59,"v":0.014},{"x":2.16,"y":0.59,"v":0.006},{"x":2.29,"y":0.59,"v":0.004},{"x":2.42,"y":0.59,"v":0.003},{"x":2.55,"y":0.59,"v":0.003},{"x":2.68,"y":0.59,"v":0.003},{"x":2.81,"y":0.59,"v":0.003},{"x":2.95,"y":0.59,"v":0.003},{"x":3.08,"y":0.59,"v":0.003},
{"x":0.07,"y":0.46,"v":0.002},{"x":0.2,"y":0.46,"v":0.002},{"x":0.33,"y":0.46,"v":0.002},{"x":0.46,"y":0.46,"v":0.001},{"x":0.59,"y":0.46,"v":0.001},{"x":0.72,"y":0.46,"v":0.001},{"x":0.85,"y":0.46,"v":0.002},{"x":0.98,"y":0.46,"v":0.003},{"x":1.11,"y":0.46,"v":0.032},{"x":1.24,"y":0.46,"v":0.022},{"x":1.37,"y":0.46,"v":0.014},{"x":1.51,"y":0.46,"v":0.018},{"x":1.64,"y":0.46,"v":0.024},{"x":1.77,"y":0.46,"v":0.026},{"x":1.9,"y":0.46,"v":0.024},{"x":2.03,"y":0.46,"v":0.015},{"x":2.16,"y":0.46,"v":0.007},{"x":2.29,"y":0.46,"v":0.004},{"x":2.42,"y":0.46,"v":0.003},{"x":2.55,"y":0.46,"v":0.003},{"x":2.68,"y":0.46,"v":0.003},{"x":2.81,"y":0.46,"v":0.003},{"x":2.95,"y":0.46,"v":0.003},{"x":3.08,"y":0.46,"v":0.003},
{"x":0.07,"y":0.33,"v":0.003},{"x":0.2,"y":0.33,"v":0.003},{"x":0.33,"y":0.33,"v":0.002},{"x":0.46,"y":0.33,"v":0.002},{"x":0.59,"y":0.33,"v":0.002},{"x":0.72,"y":0.33,"v":0.002},{"x":0.85,"y":0.33,"v":0.002},{"x":0.98,"y":0.33,"v":0.004},{"x":1.11,"y":0.33,"v":0.034},{"x":1.24,"y":0.33,"v":0.014},{"x":1.37,"y":0.33,"v":0.012},{"x":1.51,"y":0.33,"v":0.018},{"x":1.64,"y":0.33,"v":0.025},{"x":1.77,"y":0.33,"v":0.028},{"x":1.9,"y":0.33,"v":0.025},{"x":2.03,"y":0.33,"v":0.016},{"x":2.16,"y":0.33,"v":0.007},{"x":2.29,"y":0.33,"v":0.004},{"x":2.42,"y":0.33,"v":0.003},{"x":2.55,"y":0.33,"v":0.003},{"x":2.68,"y":0.33,"v":0.002},{"x":2.81,"y":0.33,"v":0.002},{"x":2.95,"y":0.33,"v":0.002},{"x":3.08,"y":0.33,"v":0.002},
{"x":0.07,"y":0.2,"v":0.003},{"x":0.2,"y":0.2,"v":0.003},{"x":0.33,"y":0.2,"v":0.003},{"x":0.46,"y":0.2,"v":0.003},{"x":0.59,"y":0.2,"v":0.002},{"x":0.72,"y":0.2,"v":0.002},{"x":0.85,"y":0.2,"v":0.003},{"x":0.98,"y":0.2,"v":0.012},{"x":1.11,"y":0.2,"v":0.034},{"x":1.24,"y":0.2,"v":0.012},{"x":1.37,"y":0.2,"v":0.012},{"x":1.51,"y":0.2,"v":0.018},{"x":1.64,"y":0.2,"v":0.026},{"x":1.77,"y":0.2,"v":0.03},{"x":1.9,"y":0.2,"v":0.026},{"x":2.03,"y":0.2,"v":0.016},{"x":2.16,"y":0.2,"v":0.007},{"x":2.29,"y":0.2,"v":0.004},{"x":2.42,"y":0.2,"v":0.003},{"x":2.55,"y":0.2,"v":0.002},{"x":2.68,"y":0.2,"v":0.002},{"x":2.81,"y":0.2,"v":0.002},{"x":2.95,"y":0.2,"v":0.002},{"x":3.08,"y":0.2,"v":0.002},
{"x":0.07,"y":0.07,"v":0.003},{"x":0.2,"y":0.07,"v":0.003},{"x":0.33,"y":0.07,"v":0.003},{"x":0.46,"y":0.07,"v":0.003},{"x":0.59,"y":0.07,"v":0.003},{"x":0.72,"y":0.07,"v":0.003},{"x":0.85,"y":0.07,"v":0.003},{"x":0.98,"y":0.07,"v":0.014},{"x":1.11,"y":0.07,"v":0.034},{"x":1.24,"y":0.07,"v":0.01},{"x":1.37,"y":0.07,"v":0.012},{"x":1.51,"y":0.07,"v":0.018},{"x":1.64,"y":0.07,"v":0.026},{"x":1.77,"y":0.07,"v":0.03},{"x":1.9,"y":0.07,"v":0.026},{"x":2.03,"y":0.07,"v":0.016},{"x":2.16,"y":0.07,"v":0.006},{"x":2.29,"y":0.07,"v":0.004},{"x":2.42,"y":0.07,"v":0.002},{"x":2.55,"y":0.07,"v":0.002},{"x":2.68,"y":0.07,"v":0.002},{"x":2.81,"y":0.07,"v":0.001},{"x":2.95,"y":0.07,"v":0.001},{"x":3.08,"y":0.07,"v":0.001}
]},
"hconcat":[{"width":150,"height":150,"encoding":{"x":{"field":"x","type":"quantitative","axis":{"values":[0,0.5,1,1.5,2,2.5,3],"format":".1~f"},"scale":{"domain":[0,3.1416],"nice":false,"zero":false}},"y":{"field":"y","type":"quantitative","axis":{"values":[0,0.5,1,1.5,2,2.5,3],"format":".1~f"},"scale":{"domain":[0,3.1416],"nice":false,"zero":false}}},"layer":[
{"data":{"name":"a"},"mark":{"type":"rect","width":7.2,"height":7.2,"clip":true,"opacity":1},"encoding":{"color":{"field":"v","type":"quantitative","scale":{"domain":[0,0.14],"range":["#000000","#39004f","#510096","#6301ce","#7202f3","#8004ff","#8c07f3","#970bce","#a11096","#ab174f","#b42000","#bd2a00","#c63700","#ce4600","#d55700","#dd6c00","#e48300","#eb9d00","#f2ba00","#f9db00","#ffff00"]},"legend":{"values":[0,0.02,0.04,0.06,0.08,0.1,0.12,0.14],"format":".2~f"}}}},
{"data":{"values":[{"x":-0.77,"y":3.03,"t":"(a)"},{"x":1.6,"y":-0.55,"t":"k"},{"x":-0.6,"y":1.6,"t":"k"}]},"mark":{"type":"text","font":"Liberation Serif","fontSize":18,"align":"left","baseline":"alphabetic"},"encoding":{"text":{"field":"t"}}},
{"data":{"values":[{"x":1.79,"y":-0.55,"t":"x"},{"x":-0.41,"y":1.57,"t":"y"}]},"mark":{"type":"text","font":"Liberation Serif","fontSize":10,"align":"left","baseline":"alphabetic"},"encoding":{"text":{"field":"t"}}}
]},{"width":150,"height":150,"encoding":{"x":{"field":"x","type":"quantitative","axis":{"values":[0,0.5,1,1.5,2,2.5,3],"format":".1~f"},"scale":{"domain":[0,3.1416],"nice":false,"zero":false}},"y":{"field":"y","type":"quantitative","axis":{"values":[0,0.5,1,1.5,2,2.5,3],"format":".1~f"},"scale":{"domain":[0,3.1416],"nice":false,"zero":false}}},"layer":[
{"data":{"name":"b"},"mark":{"type":"rect","width":7.2,"height":7.2,"clip":true,"opacity":1},"encoding":{"color":{"field":"v","type":"quantitative","scale":{"domain":[0,0.12],"range":["#000000","#39004f","#510096","#6301ce","#7202f3","#8004ff","#8c07f3","#970bce","#a11096","#ab174f","#b42000","#bd2a00","#c63700","#ce4600","#d55700","#dd6c00","#e48300","#eb9d00","#f2ba00","#f9db00","#ffff00"]},"legend":{"values":[0,0.02,0.04,0.06,0.08,0.1,0.12],"format":".2~f"}}}},
{"data":{"values":[{"x":-0.77,"y":3.03,"t":"(b)"},{"x":1.6,"y":-0.55,"t":"k"},{"x":-0.6,"y":1.6,"t":"k"}]},"mark":{"type":"text","font":"Liberation Serif","fontSize":18,"align":"left","baseline":"alphabetic"},"encoding":{"text":{"field":"t"}}},
{"data":{"values":[{"x":1.79,"y":-0.55,"t":"x"},{"x":-0.41,"y":1.57,"t":"y"}]},"mark":{"type":"text","font":"Liberation Serif","fontSize":10,"align":"left","baseline":"alphabetic"},"encoding":{"text":{"field":"t"}}}
]}],"resolve":{"scale":{"color":"independent","x":"independent","y":"independent"}}}
